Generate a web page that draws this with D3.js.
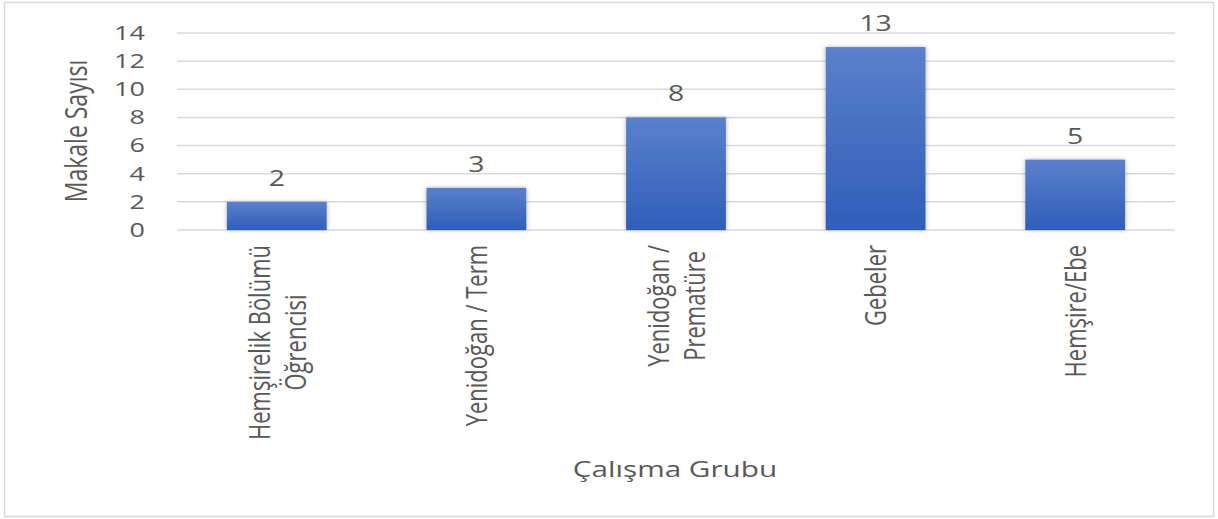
<!DOCTYPE html>
<html>
<head>
<meta charset="utf-8">
<script src="https://cdn.jsdelivr.net/npm/d3@7"></script>
<style>
  html, body { margin: 0; padding: 0; background: #fff; }
  text { font-family: "Open Sans", "Noto Sans", sans-serif; fill: #595959; }
</style>
</head>
<body>
<svg id="chart" width="1218" height="519"></svg>
<script>
// chart data
const categories = [
  ["Hemşirelik Bölümü", "Öğrencisi"],
  ["Yenidoğan / Term"],
  ["Yenidoğan /", "Prematüre"],
  ["Gebeler"],
  ["Hemşire/Ebe"]
];
const values = [2, 3, 8, 13, 5];
const yTicks = [0, 2, 4, 6, 8, 10, 12, 14];
const yTitle = "Makale Sayısı";
const xTitle = "Çalışma Grubu";

const sx = 1.35; // the source picture is stretched sideways
const svg = d3.select("#chart");

// outer frame
svg.append("rect")
  .attr("x", 4.5).attr("y", 2.5)
  .attr("width", 1209).attr("height", 514)
  .attr("fill", "#fff").attr("stroke", "#d9d9d9").attr("stroke-width", 1.5);

const defs = svg.append("defs");
const grad = defs.append("linearGradient")
  .attr("id", "barGrad").attr("x1", 0).attr("y1", 0).attr("x2", 0).attr("y2", 1);
grad.append("stop").attr("offset", "0%").attr("stop-color", "#5b80cc");
grad.append("stop").attr("offset", "100%").attr("stop-color", "#2f5eb8");
const shadow = defs.append("filter").attr("id", "shadow")
  .attr("x", "-20%").attr("y", "-20%").attr("width", "140%").attr("height", "140%");
shadow.append("feDropShadow")
  .attr("dx", 0).attr("dy", 0).attr("stdDeviation", 2)
  .attr("flood-color", "#000").attr("flood-opacity", 0.3);

const g = svg.append("g").attr("transform", `scale(${sx},1)`);

const keys = categories.map((c, i) => i);
const x = d3.scaleBand()
  .domain(keys)
  .range([177 / sx, 1175 / sx])
  .paddingInner(0.5).paddingOuter(0.25);

const y = d3.scaleLinear().domain([0, 14]).range([230, 33]);

// gridlines
g.append("g")
  .selectAll("line")
  .data(yTicks)
  .join("line")
  .attr("x1", 177 / sx).attr("x2", 1175 / sx)
  .attr("y1", d => y(d)).attr("y2", d => y(d))
  .attr("stroke", "#d9d9d9").attr("stroke-width", 1.5);

// y axis labels
const yAxis = g.append("g")
  .attr("transform", `translate(${145 / sx},0)`)
  .call(d3.axisLeft(y).tickValues(yTicks).tickSize(0).tickPadding(0));
yAxis.select(".domain").remove();
yAxis.selectAll("text")
  .attr("font-size", 20)
  .attr("font-family", "Open Sans, Noto Sans, sans-serif")
  .attr("fill", "#595959");

// bars
g.append("g")
  .selectAll("rect")
  .data(values)
  .join("rect")
  .attr("x", (d, i) => x(i))
  .attr("y", d => y(d))
  .attr("width", x.bandwidth())
  .attr("height", d => y(0) - y(d))
  .attr("fill", "url(#barGrad)")
  .attr("filter", "url(#shadow)");

// value labels
g.append("g")
  .selectAll("text")
  .data(values)
  .join("text")
  .attr("x", (d, i) => x(i) + x.bandwidth() / 2)
  .attr("y", d => y(d) - 16)
  .attr("text-anchor", "middle")
  .attr("font-size", 21)
  .text(d => d);

// category labels, rotated
const fs = 22, lineH = 26.7;
categories.forEach((lines, i) => {
  const cx = x(i) + x.bandwidth() / 2;
  const lg = g.append("g")
    .attr("transform", `translate(${cx},245) rotate(-90)`);
  const texts = lg.selectAll("text")
    .data(lines)
    .join("text")
    .attr("font-size", fs)
    .attr("text-anchor", "middle")
    .text(d => d);
  const L = d3.max(texts.nodes(), n => n.getComputedTextLength());
  texts
    .attr("x", -L / 2)
    .attr("y", (d, j) => (j - (lines.length - 1) / 2) * lineH + 8);
});

// axis titles
g.append("text")
  .attr("transform", `translate(${87 / sx},131) rotate(-90)`)
  .attr("text-anchor", "middle")
  .attr("font-size", 23)
  .text(yTitle);

g.append("text")
  .attr("x", 675 / sx)
  .attr("y", 477)
  .attr("text-anchor", "middle")
  .attr("font-size", 22)
  .text(xTitle);
</script>
</body>
</html>
